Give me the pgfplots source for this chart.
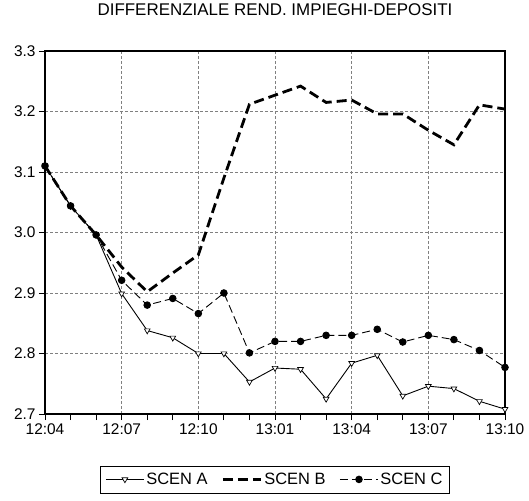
\documentclass[border=0pt]{standalone}
\usepackage{fontspec}
\setmainfont{Liberation Sans}
\usepackage{pgfplots}
\pgfplotsset{compat=1.18}
\begin{document}
\begin{tikzpicture}
\path[use as bounding box] (-45bp,-87bp) rectangle (484bp,414bp);
\begin{axis}[
  scale only axis, width=460bp, height=363bp,
  xmin=0, xmax=18, ymin=2.7, ymax=3.3,
  xtick={0,3,6,9,12,15,18},
  xticklabels={12:04,12:07,12:10,13:01,13:04,13:07,13:10},
  minor x tick num=2,
  ytick={2.7,2.8,2.9,3.0,3.1,3.2,3.3},
  yticklabels={2.7,2.8,2.9,3.0,3.1,3.2,3.3},
  tick pos=left, tick align=outside,
  major tick length=6bp, minor tick length=6bp,
  tick style={black, line width=0.8bp},
  grid=major,
  major grid style={gray, dash pattern=on 3bp off 2bp, line width=0.7bp},
  axis line style={black, line width=1.1bp},
  /pgf/number format/assume math mode=true,
  ticklabel style={font=\fontsize{15.5}{18}\selectfont},
  title={DIFFERENZIALE REND. IMPIEGHI-DEPOSITI},
  title style={font=\fontsize{17}{20}\selectfont, at={(0.5,1)}, anchor=base, yshift=30bp},
  legend columns=3,
  legend style={at={(0.5,-0.142)}, anchor=north, draw=black, line width=0.8bp,
    font=\fontsize{16.5}{19}\selectfont,
    /tikz/every even column/.append style={column sep=12bp},
    inner xsep=5bp, inner ysep=5bp},
  legend image code/.code={\draw[mark repeat=2,mark phase=2,#1] plot coordinates {(0bp,0bp) (19bp,0bp) (38bp,0bp)};},
]
\addplot[black, line width=0.9bp, mark=triangle*, mark size=3.3bp,
  mark options={rotate=180, fill=white, solid, line width=0.7bp}] coordinates {
(0,3.110) (1,3.044) (2,2.996) (3,2.899) (4,2.838) (5,2.826) (6,2.800) (7,2.800)
(8,2.753) (9,2.776) (10,2.774) (11,2.725) (12,2.784) (13,2.797) (14,2.730)
(15,2.746) (16,2.742) (17,2.721) (18,2.708)};
\addlegendentry{SCEN A}
\addplot[black, line width=2.8bp, dash pattern=on 10bp off 5bp] coordinates {
(0,3.110) (1,3.044) (2,2.996) (3,2.943) (4,2.902) (5,2.933) (6,2.963) (7,3.090)
(8,3.212) (9,3.227) (10,3.242) (11,3.215) (12,3.219) (13,3.196) (14,3.196)
(15,3.169) (16,3.145) (17,3.211) (18,3.204)};
\addlegendentry{SCEN B}
\addplot[black, line width=0.9bp, dash pattern=on 8bp off 4bp, mark=*, mark size=3.3bp,
  mark options={solid}] coordinates {
(0,3.110) (1,3.044) (2,2.996) (3,2.921) (4,2.880) (5,2.891) (6,2.866) (7,2.900)
(8,2.801) (9,2.820) (10,2.820) (11,2.830) (12,2.830) (13,2.840) (14,2.819)
(15,2.830) (16,2.823) (17,2.805) (18,2.777)};
\addlegendentry{SCEN C}
\end{axis}
\end{tikzpicture}
\end{document}
